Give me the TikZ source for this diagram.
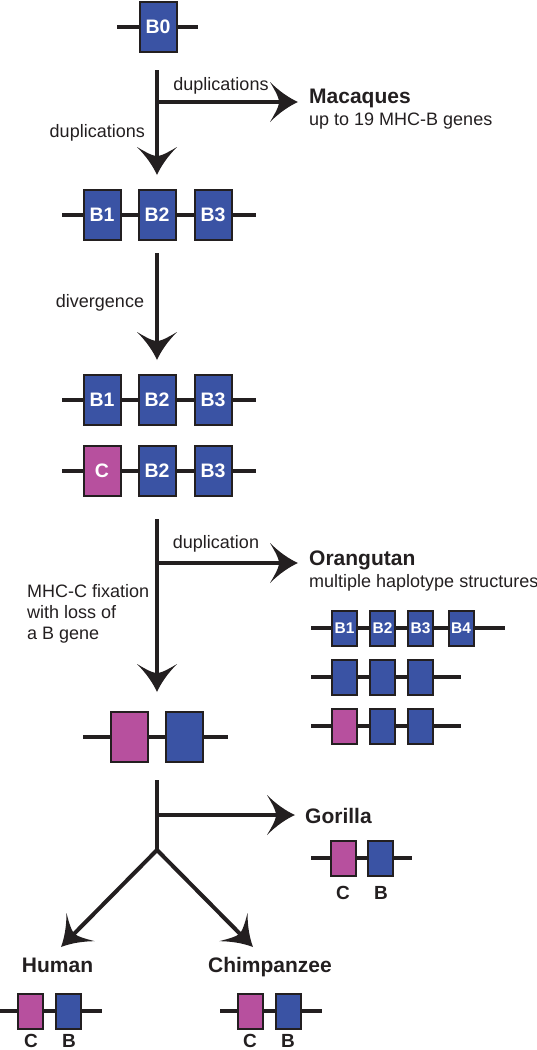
\documentclass[tikz,border=0pt]{standalone}
\usepackage{fontspec}
\setmainfont{Liberation Sans}
\usetikzlibrary{arrows.meta}
\definecolor{geneblue}{RGB}{58,83,164}
\definecolor{genepink}{RGB}{183,80,158}
\definecolor{ink}{RGB}{35,31,32}

\pgfdeclarearrow{
  name = Fin,
  setup code = {
    \pgfarrowssettipend{0pt}
    \pgfarrowssetbackend{-28pt}
    \pgfarrowssetlineend{-16pt}
    \pgfarrowshullpoint{0pt}{0pt}
    \pgfarrowshullpoint{-28pt}{20pt}
    \pgfarrowshullpoint{-28pt}{-20pt}
  },
  drawing code = {
    \pgfpathmoveto{\pgfqpoint{0pt}{0pt}}
    \pgfpathcurveto{\pgfqpoint{-9pt}{4pt}}{\pgfqpoint{-19pt}{11pt}}{\pgfqpoint{-28pt}{20pt}}
    \pgfpathcurveto{\pgfqpoint{-22pt}{10pt}}{\pgfqpoint{-19pt}{4pt}}{\pgfqpoint{-19pt}{0pt}}
    \pgfpathcurveto{\pgfqpoint{-19pt}{-4pt}}{\pgfqpoint{-22pt}{-10pt}}{\pgfqpoint{-28pt}{-20pt}}
    \pgfpathcurveto{\pgfqpoint{-19pt}{-11pt}}{\pgfqpoint{-9pt}{-4pt}}{\pgfqpoint{0pt}{0pt}}
    \pgfpathclose
    \pgfusepathqfill
  }
}

\tikzset{
  gene/.style={draw=ink, line width=2pt, minimum width=37pt, minimum height=50pt,
    inner sep=0pt, text=white, font=\fontsize{19.5}{20}\selectfont\bfseries},
  bgene/.style={gene, fill=geneblue},
  cgene/.style={gene, fill=genepink},
  sgene/.style={draw=ink, line width=2pt, minimum width=25pt, minimum height=35pt,
    inner sep=0pt, text=white, font=\fontsize{15.5}{16}\selectfont\bfseries},
  sbgene/.style={sgene, fill=geneblue},
  scgene/.style={sgene, fill=genepink},
  chrom/.style={line width=4pt, draw=ink},
  trunk/.style={line width=4pt, color=ink},
  flow/.style={line width=4pt, color=ink, -{Fin}},
  lbl/.style={font=\fontsize{18}{21}\selectfont, text=ink, inner sep=0pt},
  ttl/.style={font=\fontsize{21}{24}\selectfont\bfseries, text=ink, inner sep=0pt},
  glbl/.style={font=\fontsize{19}{20}\selectfont\bfseries, text=ink, inner sep=0pt, anchor=base},
}

\begin{document}
\begin{tikzpicture}[x=1pt,y=-1pt]
\useasboundingbox (0,0) rectangle (537,1050);

% ---- B0 ----
\coordinate (r0a) at (117,27);
\coordinate (r0b) at (198,27);
\draw[chrom] (r0a) -- (r0b);
\node[bgene] (b0) at (158,27) {B0};

% ---- arrow 1 ----
\coordinate (t1s) at (157,70);
\coordinate (t1j) at (157,102);
\coordinate (t1e) at (157,175);
\coordinate (macTip) at (298,102);
\draw[flow] (t1s) -- (t1e);
\draw[flow] (t1j) -- (macTip);
\node[lbl, anchor=base] (dupA) at (221,90) {duplications};
\node[lbl, anchor=base east] (dupB) at (145,137) {duplications};
\node[ttl, anchor=base west] (mac) at (309,103) {Macaques};
\node[lbl, anchor=base west] (macsub) at (309,125) {up to 19 MHC-B genes};

% ---- row 1 ----
\coordinate (r1a) at (62,215);
\coordinate (r1b) at (256,215);
\draw[chrom] (r1a) -- (r1b);
\node[bgene] (r1g1) at (102,215) {B1};
\node[bgene] (r1g2) at (157,215) {B2};
\node[bgene] (r1g3) at (213,215) {B3};

% ---- divergence ----
\coordinate (t2s) at (157,253);
\coordinate (t2e) at (157,360);
\draw[flow] (t2s) -- (t2e);
\node[lbl, anchor=base] (div) at (100,307) {divergence};

% ---- row 2 ----
\coordinate (r2a) at (62,400);
\coordinate (r2b) at (256,400);
\draw[chrom] (r2a) -- (r2b);
\node[bgene] (r2g1) at (102,400) {B1};
\node[bgene] (r2g2) at (157,400) {B2};
\node[bgene] (r2g3) at (213,400) {B3};

% ---- row 3 ----
\coordinate (r3a) at (62,471);
\coordinate (r3b) at (256,471);
\draw[chrom] (r3a) -- (r3b);
\node[cgene] (r3g1) at (102,471) {C};
\node[bgene] (r3g2) at (157,471) {B2};
\node[bgene] (r3g3) at (213,471) {B3};

% ---- arrow 3 ----
\coordinate (t3s) at (157,519);
\coordinate (t3j) at (157,563);
\coordinate (t3e) at (157,692);
\coordinate (oraTip) at (298,563);
\draw[flow] (t3s) -- (t3e);
\draw[flow] (t3j) -- (oraTip);
\node[lbl, anchor=base] (dupC) at (216,548) {duplication};
\node[lbl, anchor=base west] (fix1) at (27,597) {MHC-C fixation};
\node[lbl, anchor=base west] (fix2) at (27,618) {with loss of};
\node[lbl, anchor=base west] (fix3) at (27,639) {a B gene};
\node[ttl, anchor=base west] (ora) at (309,565) {Orangutan};
\node[lbl, anchor=base west] (orasub) at (309,587) {multiple haplotype structures};

% ---- orangutan haplotypes ----
\coordinate (oa1) at (311,628);
\coordinate (oa2) at (505,628);
\draw[chrom] (oa1) -- (oa2);
\node[sbgene] (oag1) at (344.5,628) {B1};
\node[sbgene] (oag2) at (382.5,628) {B2};
\node[sbgene] (oag3) at (420.5,628) {B3};
\node[sbgene] (oag4) at (461,628) {B4};

\coordinate (ob1) at (311,677);
\coordinate (ob2) at (461,677);
\draw[chrom] (ob1) -- (ob2);
\node[sbgene] (obg1) at (344.5,677) {};
\node[sbgene] (obg2) at (382.5,677) {};
\node[sbgene] (obg3) at (420.5,677) {};

\coordinate (oc1) at (311,726);
\coordinate (oc2) at (461,726);
\draw[chrom] (oc1) -- (oc2);
\node[scgene] (ocg1) at (344.5,726) {};
\node[sbgene] (ocg2) at (382.5,726) {};
\node[sbgene] (ocg3) at (420.5,726) {};

% ---- row 4 ----
\coordinate (r4a) at (83,737);
\coordinate (r4b) at (228,737);
\draw[chrom] (r4a) -- (r4b);
\node[cgene] (r4g1) at (129.5,737) {};
\node[bgene] (r4g2) at (184.5,737) {};

% ---- arrow 4 ----
\coordinate (t4s) at (157,780);
\coordinate (t4j) at (157,815);
\coordinate (t4k) at (157,850);
\coordinate (gorTip) at (295,815);
\coordinate (humTip) at (61,947);
\coordinate (chiTip) at (253,947);
\draw[trunk, line cap=butt] (t4s) -- (t4k);
\draw[flow] (t4j) -- (gorTip);
\draw[flow] (t4k) -- (humTip);
\draw[flow] (t4k) -- (chiTip);

% ---- gorilla ----
\node[ttl, anchor=base west] (gor) at (305,823) {Gorilla};
\coordinate (ga1) at (311,858);
\coordinate (ga2) at (412,858);
\draw[chrom] (ga1) -- (ga2);
\node[scgene] (gg1) at (343,858) {};
\node[sbgene] (gg2) at (380.5,858) {};
\node[glbl] (gc) at (343,899) {C};
\node[glbl] (gb) at (381,899) {B};

% ---- human ----
\node[ttl, anchor=base] (hum) at (57.5,972) {Human};
\coordinate (ha1) at (0,1011);
\coordinate (ha2) at (102,1011);
\draw[chrom] (ha1) -- (ha2);
\node[scgene] (hg1) at (30.5,1011.5) {};
\node[sbgene] (hg2) at (68.5,1011.5) {};
\node[glbl] (hc) at (31,1047.5) {C};
\node[glbl] (hb) at (69,1047.5) {B};

% ---- chimpanzee ----
\node[ttl, anchor=base] (chi) at (270,972) {Chimpanzee};
\coordinate (ca1) at (220,1011);
\coordinate (ca2) at (322,1011);
\draw[chrom] (ca1) -- (ca2);
\node[scgene] (cg1) at (250.5,1011.5) {};
\node[sbgene] (cg2) at (288.5,1011.5) {};
\node[glbl] (cc) at (250,1047.5) {C};
\node[glbl] (cb) at (288,1047.5) {B};
\end{tikzpicture}
\end{document}
